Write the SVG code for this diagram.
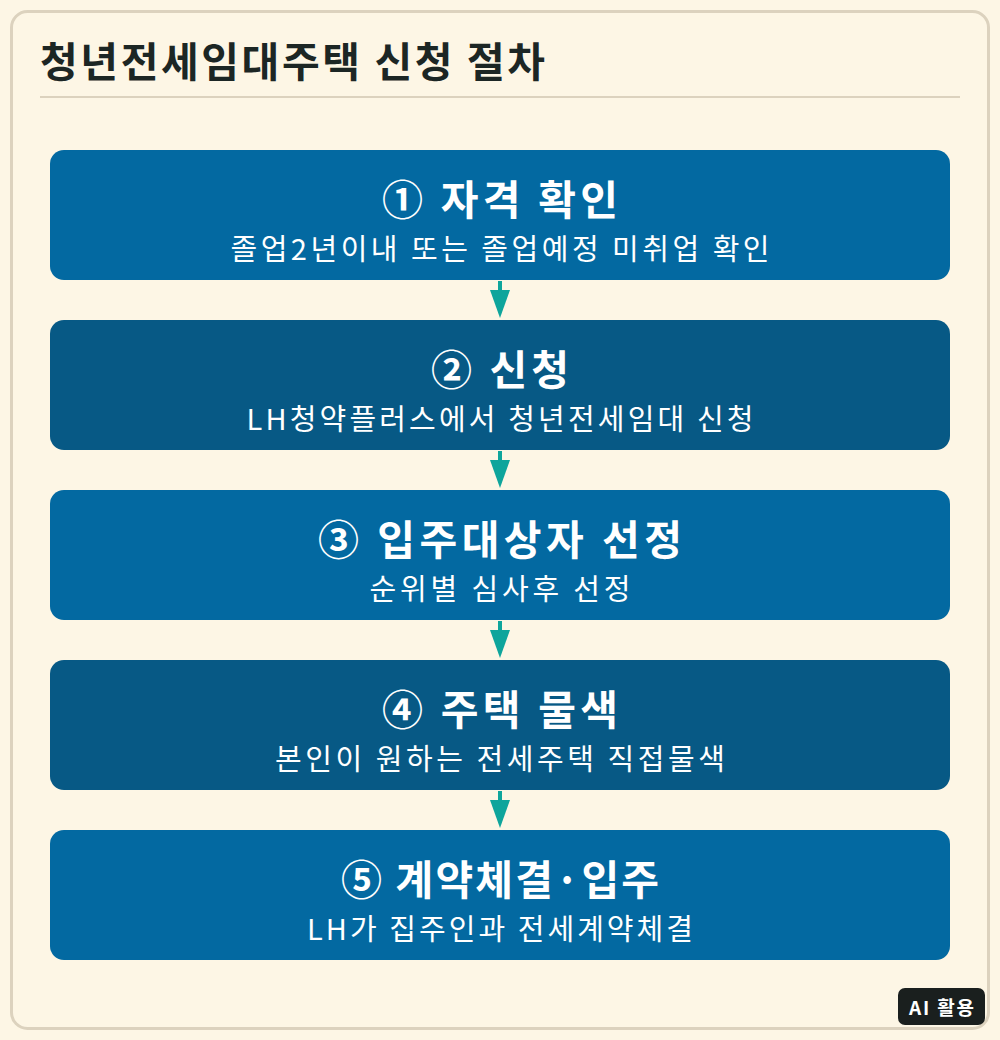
<svg xmlns="http://www.w3.org/2000/svg" width="1000" height="1040" viewBox="0 0 1000 1040">
<defs>
<style>
.t{font-family:"Noto Sans CJK KR","Noto Sans",sans-serif;}
.head{font-size:41px;font-weight:700;fill:#1c2624;}
.nt{font-size:41px;font-weight:700;fill:#ffffff;text-anchor:middle;}
.ns{font-size:29px;font-weight:400;fill:#ffffff;text-anchor:middle;}
.light{fill:#0369a1;}
.dark{fill:#075985;}
.conn{stroke:#0ea59c;stroke-width:4;fill:none;}
</style>
<marker id="ah" markerWidth="7" markerHeight="5" refX="4" refY="2.5" orient="auto" markerUnits="strokeWidth">
<path d="M0,0 L7,2.5 L0,5 Z" fill="#0ea59c"/>
</marker>
</defs>
<rect x="0" y="0" width="1000" height="1040" fill="#fdf6e5"/>
<rect x="11.5" y="11.5" width="977" height="1017" rx="16" fill="#fdf6e5" stroke="#dcd2be" stroke-width="3"/>
<text class="t head" x="40" y="77" textLength="505" lengthAdjust="spacing">청년전세임대주택 신청 절차</text>
<line x1="40" y1="97" x2="960" y2="97" stroke="#dcd2be" stroke-width="2"/>
<g id="connectors">
<line class="conn" x1="500" y1="281" x2="500" y2="306" marker-end="url(#ah)"/>
<line class="conn" x1="500" y1="451" x2="500" y2="476" marker-end="url(#ah)"/>
<line class="conn" x1="500" y1="621" x2="500" y2="646" marker-end="url(#ah)"/>
<line class="conn" x1="500" y1="791" x2="500" y2="816" marker-end="url(#ah)"/>
</g>
<g id="step1">
<rect class="light" x="50" y="150" width="900" height="130" rx="14"/>
<text class="t nt" x="500" y="215" textLength="236" lengthAdjust="spacing">① 자격 확인</text>
<text class="t ns" x="500" y="260" textLength="539" lengthAdjust="spacing">졸업2년이내 또는 졸업예정 미취업 확인</text>
</g>
<g id="step2">
<rect class="dark" x="50" y="320" width="900" height="130" rx="14"/>
<text class="t nt" x="500" y="385" textLength="138" lengthAdjust="spacing">② 신청</text>
<text class="t ns" x="500" y="430" textLength="507" lengthAdjust="spacing">LH청약플러스에서 청년전세임대 신청</text>
</g>
<g id="step3">
<rect class="light" x="50" y="490" width="900" height="130" rx="14"/>
<text class="t nt" x="500" y="555" textLength="364" lengthAdjust="spacing">③ 입주대상자 선정</text>
<text class="t ns" x="500" y="600" textLength="261" lengthAdjust="spacing">순위별 심사후 선정</text>
</g>
<g id="step4">
<rect class="dark" x="50" y="660" width="900" height="130" rx="14"/>
<text class="t nt" x="500" y="725" textLength="236" lengthAdjust="spacing">④ 주택 물색</text>
<text class="t ns" x="500" y="770" textLength="450" lengthAdjust="spacing">본인이 원하는 전세주택 직접물색</text>
</g>
<g id="step5">
<rect class="light" x="50" y="830" width="900" height="130" rx="14"/>
<text class="t nt" x="500" y="895" textLength="318" lengthAdjust="spacing">⑤ 계약체결·입주</text>
<text class="t ns" x="500" y="940" textLength="386" lengthAdjust="spacing">LH가 집주인과 전세계약체결</text>
</g>
<g id="badge">
<rect x="898" y="988" width="87" height="37" rx="7" fill="#1a1f1e"/>
<text class="t" x="941.5" y="1015" font-size="19" font-weight="700" fill="#ffffff" text-anchor="middle" textLength="65" lengthAdjust="spacing">AI 활용</text>
</g>
</svg>
